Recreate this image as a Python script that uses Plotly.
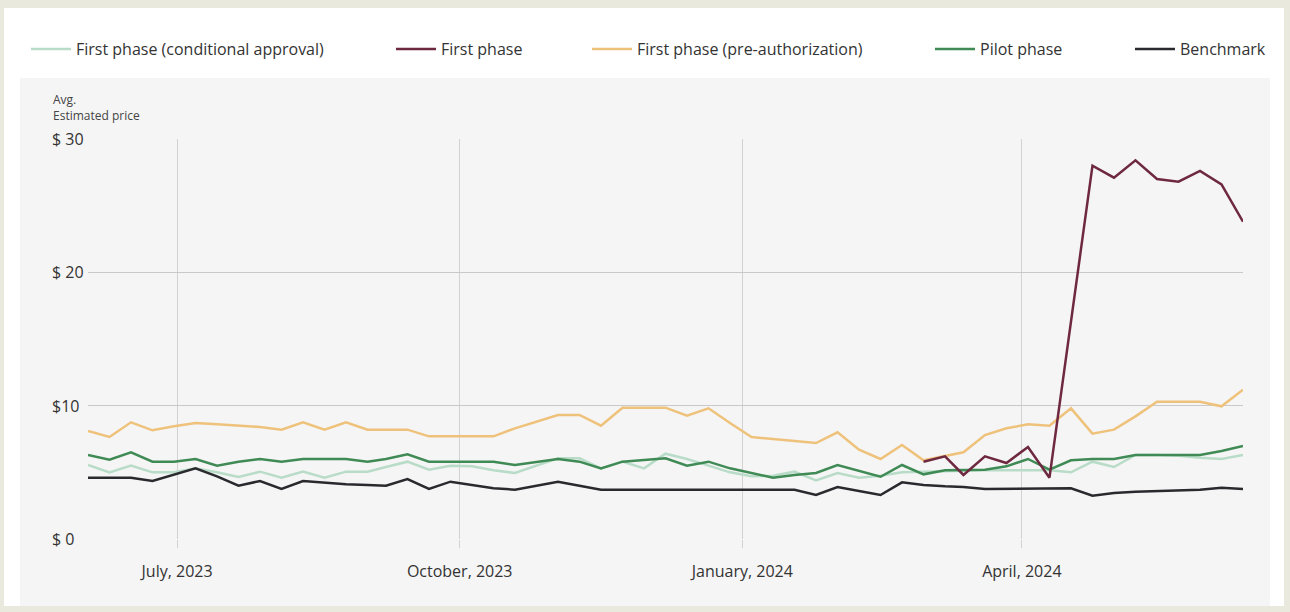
import plotly.graph_objects as go

dates = [
    "2023-06-02", "2023-06-09", "2023-06-16", "2023-06-23", "2023-06-30",
    "2023-07-07", "2023-07-14", "2023-07-21", "2023-07-28", "2023-08-04",
    "2023-08-11", "2023-08-18", "2023-08-25", "2023-09-01", "2023-09-07",
    "2023-09-14", "2023-09-21", "2023-09-28", "2023-10-05", "2023-10-12",
    "2023-10-19", "2023-10-26", "2023-11-02", "2023-11-09", "2023-11-16",
    "2023-11-23", "2023-11-30", "2023-12-07", "2023-12-14", "2023-12-21",
    "2023-12-28", "2024-01-04", "2024-01-11", "2024-01-18", "2024-01-25",
    "2024-02-01", "2024-02-08", "2024-02-15", "2024-02-22", "2024-02-29",
    "2024-03-07", "2024-03-13", "2024-03-20", "2024-03-27", "2024-04-03",
    "2024-04-10", "2024-04-17", "2024-04-24", "2024-05-01", "2024-05-08",
    "2024-05-15", "2024-05-22", "2024-05-29", "2024-06-05", "2024-06-12",
]

conditional_approval = [
    5.55, 5.0, 5.5, 5.0, 5.0, 5.3, 5.0, 4.65, 5.05, 4.6,
    5.05, 4.6, 5.05, 5.05, 5.4, 5.8, 5.2, 5.5, 5.45, 5.15,
    4.95, 5.5, 6.05, 6.05, 5.3, 5.8, 5.3, 6.4, 6.0, 5.5,
    5.0, 4.7, 4.75, 5.05, 4.4, 4.95, 4.6, 4.75, 5.0, 5.05,
    5.1, 5.15, 5.15, 5.15, 5.15, 5.15, 5.0, 5.8, 5.4, 6.3,
    6.3, 6.25, 6.1, 6.0, 6.3,
]

first_phase = [
    None, None, None, None, None, None, None, None, None, None,
    None, None, None, None, None, None, None, None, None, None,
    None, None, None, None, None, None, None, None, None, None,
    None, None, None, None, None, None, None, None, None, 5.8,
    6.2, 4.8, 6.2, 5.7, 6.9, 4.6, 16.3, 28.0, 27.1, 28.4,
    27.0, 26.8, 27.6, 26.6, 23.8,
]

pre_authorization = [
    8.1, 7.65, 8.75, 8.15, 8.45, 8.7, 8.6, 8.5, 8.4, 8.2,
    8.75, 8.2, 8.75, 8.2, 8.2, 8.2, 7.7, 7.7, 7.7, 7.7,
    8.3, 8.8, 9.3, 9.3, 8.5, 9.85, 9.85, 9.85, 9.25, 9.8,
    8.7, 7.65, 7.5, 7.35, 7.2, 8.0, 6.7, 6.0, 7.05, 5.9,
    6.2, 6.5, 7.8, 8.3, 8.6, 8.5, 9.8, 7.9, 8.2, 9.2,
    10.3, 10.3, 10.3, 9.95, 11.2,
]

pilot_phase = [
    6.3, 5.95, 6.5, 5.8, 5.8, 6.0, 5.5, 5.8, 6.0, 5.8,
    6.0, 6.0, 6.0, 5.8, 6.0, 6.35, 5.8, 5.8, 5.8, 5.8,
    5.55, 5.8, 6.0, 5.8, 5.3, 5.8, 5.9, 6.05, 5.5, 5.8,
    5.3, 4.95, 4.6, 4.8, 4.95, 5.55, 5.1, 4.67, 5.55, 4.85,
    5.15, 5.15, 5.2, 5.45, 6.0, 5.2, 5.9, 6.0, 6.0, 6.3,
    6.3, 6.3, 6.3, 6.6, 6.97,
]

benchmark = [
    4.6, 4.6, 4.6, 4.35, 4.85, 5.3, 4.7, 4.0, 4.35, 3.75,
    4.35, 4.2, 4.1, 4.05, 4.0, 4.5, 3.75, 4.3, 4.05, 3.8,
    3.7, 4.0, 4.3, 4.0, 3.7, 3.7, 3.7, 3.7, 3.7, 3.7,
    3.7, 3.7, 3.7, 3.7, 3.3, 3.9, 3.6, 3.3, 4.25, 4.05,
    3.95, 3.9, 3.75, 3.75, 3.75, 3.8, 3.8, 3.25, 3.45, 3.55,
    3.6, 3.65, 3.7, 3.85, 3.75,
]

x_tick_vals = ["2023-07-01", "2023-10-01", "2024-01-01", "2024-04-01"]
x_tick_text = ["July, 2023", "October, 2023", "January, 2024", "April, 2024"]
y_tick_vals = [0, 10, 20, 30]
y_tick_text = ["$ 0", "$10", "$ 20", "$ 30"]

series = [
    ("First phase (conditional approval)", conditional_approval, "#b9dcc8", "legend"),
    ("First phase (pre-authorization)", pre_authorization, "#efc27c", "legend3"),
    ("Pilot phase", pilot_phase, "#3f8a55", "legend4"),
    ("Benchmark", benchmark, "#2a2a2e", "legend5"),
    ("First phase", first_phase, "#6e2840", "legend2"),
]

FONT = "Open Sans"
fig = go.Figure()
for name, vals, color, lg in series:
    fig.add_trace(go.Scatter(
        x=dates, y=vals, name=name, mode="lines",
        line=dict(color=color, width=2.5),
        connectgaps=False, legend=lg, hoverinfo="x+y+name",
    ))

W, H = 1290, 612
L, R, T, B = 88, 47, 139, 73
pw, ph = W - L - R, H - T - B


def px_x(p):
    return (p - L) / pw


def px_y(p):
    return (H - B - p) / ph


shapes = [
    dict(type="rect", xref="paper", yref="paper", layer="below",
         x0=px_x(4), x1=px_x(1284), y0=px_y(606), y1=px_y(8),
         fillcolor="#ffffff", line=dict(width=0)),
    dict(type="rect", xref="paper", yref="paper", layer="below",
         x0=px_x(20), x1=px_x(1270), y0=px_y(606), y1=px_y(78),
         fillcolor="#f5f5f5", line=dict(width=0)),
]

annotations = [
    dict(xref="paper", yref="paper", x=px_x(51), y=px_y(89), xanchor="left", yanchor="top",
         align="left", showarrow=False, text="Avg.<br>Estimated price",
         font=dict(family=FONT, size=12, color="#444444")),
]
for v, t in zip(y_tick_vals, y_tick_text):
    annotations.append(dict(xref="paper", yref="y", x=px_x(50), y=v, xanchor="left",
                            yanchor="middle", showarrow=False, text=t,
                            font=dict(family=FONT, size=16, color="#333333")))

legend_common = dict(orientation="h", yanchor="middle", xanchor="left",
                     bgcolor="rgba(0,0,0,0)", font=dict(family=FONT, size=16, color="#333333"),
                     itemwidth=40)
legend_pos = {"legend": 26, "legend2": 391, "legend3": 587, "legend4": 930, "legend5": 1130}
layout_legends = {}
for k, p in legend_pos.items():
    layout_legends[k] = dict(legend_common, x=px_x(p), y=px_y(49))

fig.update_layout(
    width=W, height=H,
    margin=dict(l=L, r=R, t=T, b=B),
    paper_bgcolor="#e9e9de",
    plot_bgcolor="rgba(0,0,0,0)",
    showlegend=True,
    shapes=shapes,
    annotations=annotations,
    font=dict(family=FONT, color="#333333"),
    xaxis=dict(type="date", range=[dates[0], dates[-1]], tickvals=x_tick_vals,
               ticktext=x_tick_text, showgrid=True, gridcolor="#d2d2d2", gridwidth=1,
               ticks="outside", ticklen=8, tickcolor="#d2d2d2", zeroline=False,
               showline=False, tickfont=dict(family=FONT, size=16, color="#333333"),
               ticklabelstandoff=10, fixedrange=True),
    yaxis=dict(range=[0, 30], tickvals=y_tick_vals, showticklabels=False, showgrid=True,
               gridcolor="#c9c9c9", gridwidth=1, zeroline=False, showline=False,
               fixedrange=True),
    **layout_legends,
)

fig.write_html("out.html", config={"displayModeBar": False})
